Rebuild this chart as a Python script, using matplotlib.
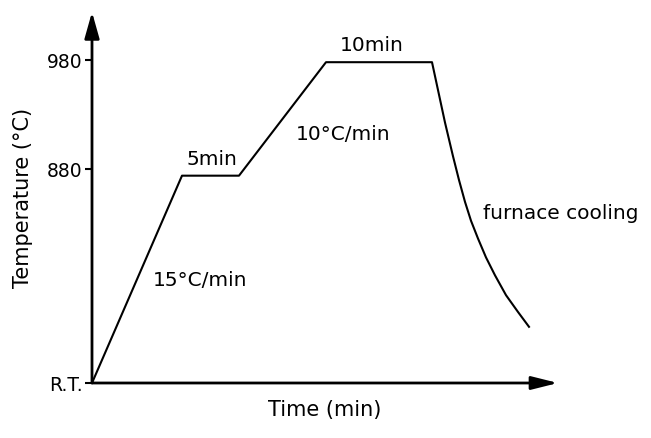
import matplotlib
matplotlib.use("Agg")
from matplotlib import pyplot as plt
import numpy as np

# schematic heat treatment profile (time axis is not to scale)
time = [0, 90, 147, 234, 340, 353, 361, 367, 373, 379, 386, 394, 403, 414,
        426, 437]
temp = [684, 874, 874, 978, 978, 922.7, 891.8, 870.0, 850.0, 832.7, 816.4,
        799.1, 782.7, 764.5, 749.1, 735.5]

tick_pos = [684, 880, 980]
tick_labels = ["R.T.", "880", "980"]

notes = ["5min", "10min", "10°C/min", "15°C/min", "furnace cooling"]
note_x = [120, 280, 251, 108, 391]
note_y = [889, 993, 912, 778, 839]

plt.rcParams['font.family'] = ['DejaVu Sans']
fig = plt.figure(figsize=(6.51, 4.38), dpi=100)
ax = fig.add_axes([92 / 651, 55 / 438, 466 / 651, 371 / 438])

ax.plot(time, temp, color='black', lw=1.5, solid_joinstyle='round')

for s in ax.spines.values():
    s.set_visible(False)

# axes drawn as arrows
ax.annotate("", xy=(0, 1), xytext=(0, 0), xycoords='axes fraction',
            arrowprops=dict(arrowstyle='-|>,head_length=1.6,head_width=0.45',
                            color='black', lw=2, shrinkA=0, shrinkB=0))
ax.annotate("", xy=(1, 0), xytext=(0, 0), xycoords='axes fraction',
            arrowprops=dict(arrowstyle='-|>,head_length=1.6,head_width=0.4',
                            color='black', lw=2, shrinkA=0, shrinkB=0))

ax.set_xlim(0, 466)
ax.set_ylim(684, 1024)
ax.set_xticks([])
ax.set_yticks(tick_pos)
ax.set_yticklabels(tick_labels, fontsize=13.5)
ax.tick_params(axis='y', direction='out', length=5, width=1.5, pad=2)

for t, x, y in zip(notes, note_x, note_y):
    ax.text(x, y, t, fontsize=14.5, ha='center' if t != "furnace cooling" else 'left',
            va='center')

ax.set_xlabel("Time (min)", fontsize=15, labelpad=12)
ax.set_ylabel("Temperature (°C)", fontsize=15, labelpad=10)

fig.savefig("out.png", dpi=100)
